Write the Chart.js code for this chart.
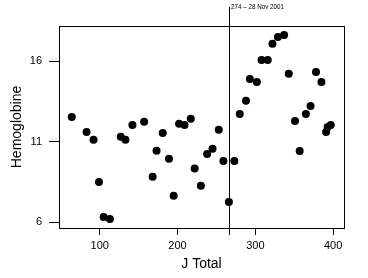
<!DOCTYPE html>
<html lang="en">

<head>
    <meta charset="UTF-8">
    <title>Hemoglobine vs J Total</title>
    <script src="https://cdn.jsdelivr.net/npm/chart.js"></script>
    <style>
        html, body { margin: 0; padding: 0; background: #fff; }
        #box { width: 368px; height: 278px; }
    </style>
</head>

<body>
    <div id="box"><canvas id="scatter"></canvas></div>

    <script>
        // values
        const jTotal = [64, 83, 92, 99, 105, 113, 127, 133, 142, 157, 168, 173, 181, 189, 195,
            202, 209, 217, 222, 230, 238, 245, 253, 259, 266, 273, 280, 288, 293, 302,
            308, 316, 322, 329, 337, 343, 351, 357, 365, 371, 378, 385, 391, 393, 397];
        const hemoglobine = [12.55, 11.61, 11.14, 8.51, 6.34, 6.21, 11.32, 11.14, 12.05, 12.25, 8.84, 10.45, 11.55, 9.96, 7.66,
            12.13, 12.05, 12.44, 9.34, 8.28, 10.25, 10.58, 11.76, 9.81, 7.27, 9.81, 12.73, 13.56, 14.91, 14.72,
            16.09, 16.09, 17.10, 17.52, 17.64, 15.24, 12.30, 10.43, 12.73, 13.23, 15.34, 14.72, 11.61, 11.93, 12.05];
        const xTicks = [100, 200, 300, 400];
        const yTicks = [6, 11, 16];
        const markerX = 266;
        const markerText = '274 \u2013 28 Nov 2001';

        const fontName = 'Liberation Sans, Arial, sans-serif';

        const points = jTotal.map((x, i) => ({ x: x, y: hemoglobine[i] }));

        // box round the plot, plus the marked vertical line with its label
        const framePlugin = {
            id: 'frame',
            afterDatasetsDraw(chart) {
                const ctx = chart.ctx;
                const a = chart.chartArea;
                ctx.save();
                ctx.strokeStyle = '#000';
                ctx.lineWidth = 1;
                ctx.strokeRect(Math.round(a.left) + 0.5, Math.round(a.top) + 0.5,
                    Math.round(a.right - a.left), Math.round(a.bottom - a.top));

                const px = Math.round(chart.scales.x.getPixelForValue(markerX)) + 0.5;
                ctx.beginPath();
                ctx.moveTo(px, 7);
                ctx.lineTo(px, a.bottom + 7);
                ctx.stroke();

                ctx.fillStyle = '#000';
                ctx.font = '7.5px ' + fontName;
                ctx.textBaseline = 'middle';
                ctx.textAlign = 'left';
                // the original label is set in a narrow face
                ctx.fillText(markerText, px + 1.5, 7, 53);
                ctx.restore();
            }
        };

        const ctx = document.getElementById('scatter').getContext('2d');
        const chart = new Chart(ctx, {
            type: 'scatter',
            data: {
                datasets: [{
                    data: points,
                    backgroundColor: '#000',
                    borderWidth: 0,
                    pointRadius: 4,
                    pointHoverRadius: 4
                }]
            },
            options: {
                responsive: true,
                maintainAspectRatio: false,
                animation: false,
                events: [],
                layout: { padding: { left: 0, right: 24, top: 26, bottom: 0 } },
                plugins: {
                    legend: { display: false },
                    tooltip: { enabled: false }
                },
                scales: {
                    x: {
                        type: 'linear',
                        min: 47.6,
                        max: 414,
                        afterBuildTicks: s => { s.ticks = xTicks.map(v => ({ value: v })); },
                        afterFit: s => { s.height = 50; },
                        grid: { drawOnChartArea: false, drawTicks: true, tickLength: 7, color: '#000' },
                        border: { display: true, color: '#000' },
                        ticks: { color: '#000', padding: 4, maxRotation: 0, font: { family: fontName, size: 11 } },
                        title: {
                            display: true, text: 'J Total', color: '#000',
                            font: { family: fontName, size: 14 }, padding: { top: 0, bottom: 5 }
                        }
                    },
                    y: {
                        type: 'linear',
                        min: 5.65,
                        max: 18.2,
                        afterBuildTicks: s => { s.ticks = yTicks.map(v => ({ value: v })); },
                        afterFit: s => { s.width = 59; },
                        grid: { drawOnChartArea: false, drawTicks: true, tickLength: 10, color: '#000' },
                        border: { display: true, color: '#000' },
                        ticks: { color: '#000', padding: 7, font: { family: fontName, size: 11 } },
                        title: {
                            display: true, text: 'Hemoglobine', color: '#000',
                            font: { family: fontName, size: 14 }, padding: { top: 9, bottom: 0 }
                        }
                    }
                }
            },
            plugins: [framePlugin]
        });
    </script>
</body>

</html>
